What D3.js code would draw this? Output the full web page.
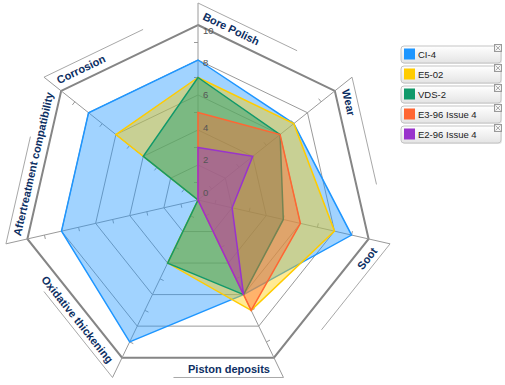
<!DOCTYPE html>
<html><head><meta charset="utf-8">
<script src="https://cdn.jsdelivr.net/npm/d3@7/dist/d3.min.js"></script>
<style>html,body{margin:0;padding:0;background:#fff;}svg{display:block;}</style>
</head><body><svg id="chart" width="505" height="385"></svg>
<script>
const axes = ["Bore Polish","Wear","Soot","Piston deposits","Oxidative thickening","Aftertreatment compatibility","Corrosion"];
const seriesNames = ["CI-4","E5-02","VDS-2","E3-96 Issue 4","E2-96 Issue 4"];
const ci4  = [8,7,9,6,9,8,8];
const e502 = [7,7,8,7,4,0,6];
const vds2 = [7,6,5,6,4,0,4];
const e396 = [5,6,6,7,0,0,0];
const e296 = [3,4,2,6,0,0,0];
const seriesColors = ["#1e96ff","#ffcc00","#11996a","#ff6633","#9933cc"];
const tickValues = [0,2,4,6,8,10];
const minorTicks = [1,3,5,7,9];
const seriesValues = [ci4,e502,vds2,e396,e296];

const svg = d3.select("#chart");
const cx = 198, cy = 200;
const n = axes.length;
const r = d3.scaleLinear().domain([0,10]).range([0,175]);
const ang = d3.scaleLinear().domain([0,n]).range([0,2*Math.PI]);
const tickY = d3.scaleLinear().domain([0,10]).range([195.5,33.5]);
const pt = (i,rad)=>[cx+rad*Math.sin(ang(i)), cy-rad*Math.cos(ang(i))];

const g = svg.append("g");
const radial = d3.lineRadial().curve(d3.curveLinearClosed);
const gc = g.append("g").attr("transform",`translate(${cx},${cy})`);

// rings
[2,4,6,8].forEach(v=>{
  gc.append("path").attr("d", radial(axes.map((a,i)=>[ang(i), r(v)])))
    .attr("fill","none").attr("stroke","#9a9a9a").attr("stroke-width",1);
});
// axes
axes.forEach((a,i)=>{
  const p = pt(i,197);
  g.append("line").attr("x1",cx).attr("y1",cy).attr("x2",p[0]).attr("y2",p[1])
    .attr("stroke","#9a9a9a").attr("stroke-width",1);
  minorTicks.forEach(v=>{
    const q = pt(i,r(v)); const A = ang(i);
    g.append("line").attr("x1",q[0]).attr("y1",q[1])
      .attr("x2",q[0]-4*Math.cos(A)).attr("y2",q[1]-4*Math.sin(A))
      .attr("stroke","#9a9a9a").attr("stroke-width",1);
  });
});
// outer ring
gc.append("path").attr("d", radial(axes.map((a,i)=>[ang(i), r(10)])))
  .attr("fill","none").attr("stroke","#858585").attr("stroke-width",2);

// label panels
axes.forEach((a,i)=>{
  const V = pt(i,r(10)), W = pt((i+1)%n, r(10));
  let ux=W[0]-V[0], uy=W[1]-V[1]; const L=Math.hypot(ux,uy); ux/=L; uy/=L;
  const na = ang(i)+Math.PI/n; const nx=Math.sin(na), ny=-Math.cos(na);
  const A = pt(i,197);
  g.append("line").attr("x1",A[0]).attr("y1",A[1]).attr("x2",A[0]+ux*110).attr("y2",A[1]+uy*110)
    .attr("stroke","#a8a8a8").attr("stroke-width",1);
  let deg = Math.atan2(uy,ux)*180/Math.PI;
  let anchor="start", s=1, d=7;
  if (Math.abs(deg)>90){ deg = deg>0?deg-180:deg+180; anchor="end"; s=4; d=15; }
  const x = V[0]+ux*s+nx*d, y = V[1]+uy*s+ny*d;
  g.append("text").attr("transform",`translate(${x},${y}) rotate(${deg})`)
    .attr("text-anchor",anchor).attr("font-family","Liberation Sans, Arial, sans-serif")
    .attr("font-size",11).attr("font-weight","bold").attr("fill","#0d2f63").text(a);
});

// series
const gs = g.append("g").attr("transform",`translate(${cx},${cy})`);
seriesValues.forEach((vals,k)=>{
  gs.append("path").attr("d", radial(vals.map((v,i)=>[ang(i), r(v)])))
    .attr("fill",seriesColors[k]).attr("fill-opacity",0.42)
    .attr("stroke",seriesColors[k]).attr("stroke-width",1.5).attr("stroke-linejoin","miter");
});

// tick labels
tickValues.forEach(v=>{
  g.append("text").attr("x",203).attr("y",tickY(v)).attr("font-family","Liberation Sans, Arial, sans-serif")
    .attr("font-size",9.5).attr("fill","#555").text(v);
});

// legend
const defs = svg.append("defs");
const grad = defs.append("linearGradient").attr("id","lg").attr("x1",0).attr("y1",0).attr("x2",0).attr("y2",1);
grad.append("stop").attr("offset","0%").attr("stop-color","#ffffff");
grad.append("stop").attr("offset","100%").attr("stop-color","#e4e4e4");
const lg = svg.append("g");
seriesNames.forEach((nm,k)=>{
  const y0 = 46 + k*20;
  lg.append("rect").attr("x",402).attr("y",y0+1).attr("width",100).attr("height",17).attr("rx",3)
    .attr("fill","#e8e8e8");
  lg.append("rect").attr("x",401).attr("y",y0).attr("width",100).attr("height",17).attr("rx",3)
    .attr("fill","url(#lg)").attr("stroke","#c4c4c4");
  lg.append("rect").attr("x",404).attr("y",y0+2.5).attr("width",11).attr("height",11)
    .attr("fill",seriesColors[k]);
  lg.append("text").attr("x",418).attr("y",y0+12).attr("font-family","Liberation Sans, Arial, sans-serif")
    .attr("font-size",9.5).attr("fill","#222").text(nm);
  lg.append("rect").attr("x",494.5).attr("y",y0-1.5).attr("width",7).attr("height",7)
    .attr("fill","#f4f4f4").attr("stroke","#9a9a9a");
  lg.append("path").attr("d",`M${495.5},${y0-0.5}L${500.5},${y0+4.5}M${500.5},${y0-0.5}L${495.5},${y0+4.5}`)
    .attr("stroke","#9a9a9a").attr("stroke-width",0.8);
});
</script></body></html>
